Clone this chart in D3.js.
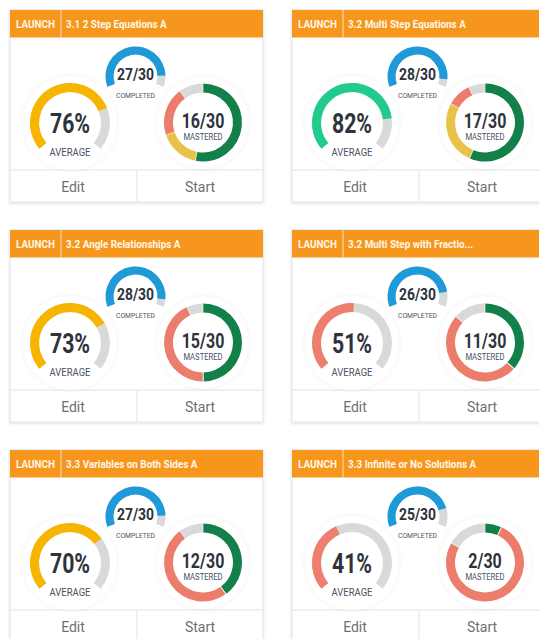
<!DOCTYPE html>
<html>
<head>
<meta charset="utf-8">
<script src="https://cdn.jsdelivr.net/npm/d3@7"></script>
<style>
  body { margin: 0; background: #fff; }
  svg { display: block; }
</style>
</head>
<body>
<svg id="chart" width="539" height="639"></svg>
<script>
// assignment titles, one per card
const titles = [
  "3.1 2 Step Equations A",
  "3.2 Multi Step Equations A",
  "3.2 Angle Relationships A",
  "3.2 Multi Step with Fractio...",
  "3.3 Variables on Both Sides A",
  "3.3 Infinite or No Solutions A"
];
const averages = [76, 82, 73, 51, 70, 41];     // percent
const completed = [27, 28, 28, 26, 27, 25];    // students completed
const mastered = [16, 17, 15, 11, 12, 2];      // green
const partial = [5, 8, 0, 0, 0, 0];            // yellow
const notMastered = [6, 3, 13, 15, 15, 23];    // red
const total = 30;

const FONT = "Roboto, 'DejaVu Sans', sans-serif";
const GRAY = "#d9d9d9";
const INK = "#2e333b";
const LABEL = "#4a5263";

const svg = d3.select("#chart");

const defs = svg.append("defs");
const sh = defs.append("filter").attr("id", "shadow")
  .attr("x", "-5%").attr("y", "-5%").attr("width", "110%").attr("height", "115%");
sh.append("feDropShadow").attr("dx", 0).attr("dy", 1).attr("stdDeviation", 1.5)
  .attr("flood-color", "#000").attr("flood-opacity", 0.14);
const halo = defs.append("filter").attr("id", "halo")
  .attr("x", "-20%").attr("y", "-20%").attr("width", "140%").attr("height", "140%");
halo.append("feDropShadow").attr("dx", 0).attr("dy", 0).attr("stdDeviation", 2)
  .attr("flood-color", "#000").attr("flood-opacity", 0.07);

const cardW = 253, cardH = 192, headH = 27.5, footH = 32;

const xCol = d3.scaleLinear().domain([0, 1]).range([10, 292]);
const yRow = d3.scaleLinear().domain([0, 1]).range([10, 230]);

// gauge scales
const avgAngle = d3.scaleLinear().domain([0, 100])
  .range([-130 * Math.PI / 180, 130 * Math.PI / 180]);
const compAngle = d3.scaleLinear().domain([0, total])
  .range([-110 * Math.PI / 180, 110 * Math.PI / 180]);
const avgColor = d3.scaleThreshold().domain([60, 80])
  .range(["#ee7f6f", "#f7b500", "#20cb8c"]);
const masteryColor = d3.scaleOrdinal()
  .domain(["mastered", "partial", "not", "incomplete"])
  .range(["#138049", "#e9c24a", "#ec7c6c", GRAY]);

const avgArc = d3.arc().innerRadius(31).outerRadius(40);
const compArc = d3.arc().innerRadius(22).outerRadius(30);
const donutArc = d3.arc().innerRadius(30).outerRadius(39);
const pie = d3.pie().sort(null).value(d => d.v).padAngle(0.012);

// text squeezed horizontally, the original uses a condensed face
function label(g, x, y, sx, size, weight, fill, anchor) {
  return g.append("text")
    .attr("transform", `translate(${x},${y}) scale(${sx},1)`)
    .attr("text-anchor", anchor || "middle")
    .attr("font-family", FONT).attr("font-weight", weight)
    .attr("font-size", size).attr("fill", fill);
}

const cards = svg.selectAll("g.card")
  .data(titles.map((t, i) => ({ t, i })))
  .join("g")
  .attr("class", "card")
  .attr("transform", d => `translate(${xCol(d.i % 2)},${yRow(Math.floor(d.i / 2))})`);

// card body
cards.append("rect")
  .attr("width", cardW).attr("height", cardH)
  .attr("fill", "#fff").attr("stroke", "#e3e3e3")
  .attr("filter", "url(#shadow)");

// header
cards.append("rect")
  .attr("width", cardW).attr("height", headH)
  .attr("fill", "#f7961d");
cards.append("line")
  .attr("x1", 51).attr("x2", 51).attr("y1", 0).attr("y2", headH)
  .attr("stroke", "#fde3bd").attr("stroke-width", 1);
label(cards, 6, 18, 0.86, 11.5, "bold", "#fff6e6", "start").text("LAUNCH");
label(cards, 56, 18, 0.86, 11.5, "bold", "#fff6e6", "start").text(d => d.t);

// footer buttons
cards.append("line")
  .attr("x1", 0).attr("x2", cardW).attr("y1", cardH - footH).attr("y2", cardH - footH)
  .attr("stroke", "#e3e3e3");
cards.append("line")
  .attr("x1", 127).attr("x2", 127).attr("y1", cardH - footH).attr("y2", cardH)
  .attr("stroke", "#e3e3e3");
label(cards, 63, cardH - 10.5, 1, 14, "normal", "#707070").text("Edit");
label(cards, 190, cardH - 10.5, 1, 14, "normal", "#707070").text("Start");

// average gauge
const avgG = cards.append("g").attr("transform", "translate(60,113)");
avgG.append("circle").attr("r", 47).attr("fill", "#fff").attr("filter", "url(#halo)");
avgG.append("path")
  .attr("d", avgArc({ startAngle: avgAngle(0), endAngle: avgAngle(100) }))
  .attr("fill", GRAY);
avgG.append("path")
  .attr("d", d => avgArc({ startAngle: avgAngle(0), endAngle: avgAngle(averages[d.i]) }))
  .attr("fill", d => avgColor(averages[d.i]));
label(avgG, 0, 10, 0.76, 28, "bold", INK).text(d => averages[d.i] + "%");
label(avgG, 0, 32.5, 0.9, 10.5, "normal", LABEL).text("AVERAGE");

// completed gauge
const compG = cards.append("g").attr("transform", "translate(125.5,66.5)");
compG.append("path")
  .attr("d", compArc({ startAngle: compAngle(0), endAngle: compAngle(total) }))
  .attr("fill", GRAY);
compG.append("path")
  .attr("d", d => compArc({ startAngle: compAngle(0), endAngle: compAngle(completed[d.i]) }))
  .attr("fill", "#1d9ad7");
label(compG, 0, 3, 0.82, 17, "bold", INK).text(d => `${completed[d.i]}/${total}`);
label(compG, 0, 21.5, 0.9, 7.5, "normal", LABEL).text("COMPLETED");

// mastery donut
const mastG = cards.append("g").attr("transform", "translate(193,112.5)");
mastG.append("circle").attr("r", 46).attr("fill", "#fff").attr("filter", "url(#halo)");
mastG.selectAll("path")
  .data(d => pie([
    { k: "mastered", v: mastered[d.i] },
    { k: "partial", v: partial[d.i] },
    { k: "not", v: notMastered[d.i] },
    { k: "incomplete", v: total - completed[d.i] }
  ]))
  .join("path")
  .attr("d", donutArc)
  .attr("fill", s => masteryColor(s.data.k));
label(mastG, 0, 5.5, 0.8, 20, "bold", INK).text(d => `${mastered[d.i]}/${total}`);
label(mastG, 0, 17.5, 0.9, 8.5, "normal", LABEL).text("MASTERED");
</script>
</body>
</html>
